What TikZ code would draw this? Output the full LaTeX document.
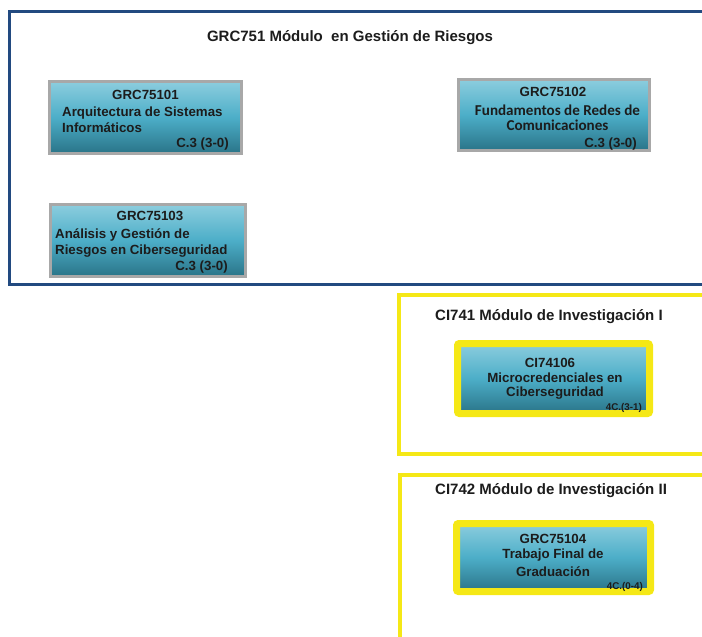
\documentclass[tikz,border=0pt]{standalone}
\usepackage{fontspec}
\setmainfont{Liberation Sans}
\newfontfamily\humanfont{Carlito}

\begin{document}
\begin{tikzpicture}[x=1pt,y=-1pt,
	course/.style={draw=boxgray, line width=3pt, top color=tealtop, bottom color=tealbottom, middle color=tealmid, inner sep=0pt},
	research/.style={course, draw=markyellow, line width=7pt, rounded corners=2pt},
	label/.style={text=textdark, font=\bfseries\fontsize{13.3}{15}\selectfont, inner sep=0pt, yshift=-2.5pt},
	humanlabel/.style={label, font=\humanfont\bfseries\fontsize{15.1}{17}\selectfont, yshift=2.5pt},
	heading/.style={label, font=\bfseries\fontsize{15}{18}\selectfont},
	credits/.style={label, font=\bfseries\fontsize{9.8}{11}\selectfont}]
	\definecolor{frameblue}{RGB}{34, 74, 128}
	\definecolor{markyellow}{RGB}{245, 232, 22}
	\definecolor{boxgray}{RGB}{168, 168, 168}
	\definecolor{tealtop}{RGB}{140, 205, 222}
	\definecolor{tealmid}{RGB}{76, 174, 200}
	\definecolor{tealbottom}{RGB}{42, 116, 136}
	\definecolor{textdark}{RGB}{28, 28, 28}

	\path[use as bounding box, clip] (0,0) rectangle (702,637);

	% module frames
	\draw[frameblue, line width=3pt] (9.5,11) rectangle (720,284);
	\draw[markyellow, line width=4pt] (399,294.5) rectangle (720,454);
	\draw[markyellow, line width=4pt] (400,474.5) rectangle (720,660);

	\node[heading] (grc751) at (350,35) {GRC751 Módulo\ \ en Gestión de Riesgos};
	\node[heading, anchor=mid west] (ci741) at (435,315) {CI741 Módulo de Investigación I};
	\node[heading, anchor=mid west] (ci742) at (435,489) {CI742 Módulo de Investigación II};

	% courses
	\node[course, minimum width=192pt, minimum height=72pt] (grc75101) at (145.5,117.5) {};
	\node[label] (grc75101code) at (145.5,92) {GRC75101};
	\node[label, anchor=mid west] (grc75101a) at (62,111) {Arquitectura de Sistemas};
	\node[label, anchor=mid west] (grc75101b) at (62,127) {Informáticos};
	\node[label, anchor=mid east] (grc75101c) at (229,142) {C.3 (3-0)};

	\node[course, minimum width=191pt, minimum height=71pt] (grc75102) at (554,115) {};
	\node[label] (grc75102code) at (553,89.5) {GRC75102};
	\node[humanlabel] (grc75102a) at (557.5,110) {Fundamentos de Redes de};
	\node[humanlabel] (grc75102b) at (557.5,125) {Comunicaciones};
	\node[label, anchor=mid east] (grc75102c) at (637,142) {C.3 (3-0)};

	\node[course, minimum width=195pt, minimum height=72pt] (grc75103) at (148,240.5) {};
	\node[label] (grc75103code) at (150,213) {GRC75103};
	\node[label, anchor=mid west] (grc75103a) at (55,233) {Análisis y Gestión de};
	\node[label, anchor=mid west] (grc75103b) at (55,249) {Riesgos en Ciberseguridad};
	\node[label, anchor=mid east] (grc75103c) at (228,265) {C.3 (3-0)};

	\node[research, minimum width=192pt, minimum height=70pt] (ci74106) at (553.5,378.5) {};
	\node[label] (ci74106code) at (550,360) {CI74106};
	\node[label] (ci74106a) at (555,375) {Microcredenciales en};
	\node[label] (ci74106b) at (555,391) {Ciberseguridad};
	\node[credits, anchor=mid east] (ci74106c) at (642,405) {4C.(3-1)};

	\node[research, minimum width=194pt, minimum height=68pt] (grc75104) at (553.5,557.5) {};
	\node[label] (grc75104code) at (553,536) {GRC75104};
	\node[label] (grc75104a) at (553,553) {Trabajo Final de};
	\node[label] (grc75104b) at (553,569) {Graduación};
	\node[credits, anchor=mid east] (grc75104c) at (643,584) {4C.(0-4)};
\end{tikzpicture}
\end{document}
